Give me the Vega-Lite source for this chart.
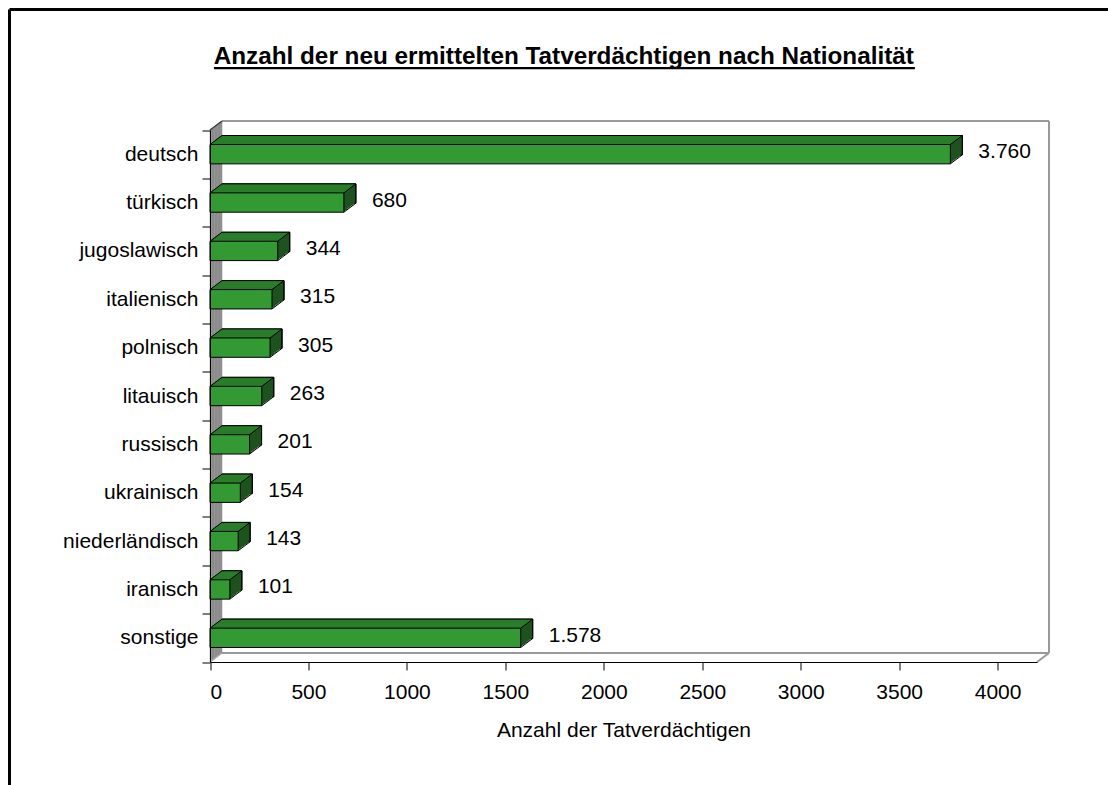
{
  "$schema": "https://vega.github.io/schema/vega-lite/v6.json",
  "width": 1098.5,
  "height": 775.5,
  "autosize": {"type": "none"},
  "padding": {"left": 9.5, "top": 9.5, "right": 0, "bottom": 0},
  "title": {
    "text": "Anzahl der neu ermittelten Tatverdächtigen nach Nationalität",
    "font": "Liberation Sans",
    "fontSize": 24.3,
    "fontWeight": "bold",
    "color": "black",
    "anchor": "middle",
    "frame": "group",
    "dx": 5,
    "offset": -71
  },
  "config": {
    "font": "Liberation Sans",
    "view": {"stroke": "black", "strokeWidth": 3, "strokeDash": [1098.5, 1874, 775.5, 0]},
    "locale": {"number": {"decimal": ",", "thousands": ".", "grouping": [3], "currency": ["", " €"]}}
  },
  "data": {
    "values": [
      {"nat": "deutsch", "n": 3760},
      {"nat": "türkisch", "n": 680},
      {"nat": "jugoslawisch", "n": 344},
      {"nat": "italienisch", "n": 315},
      {"nat": "polnisch", "n": 305},
      {"nat": "litauisch", "n": 263},
      {"nat": "russisch", "n": 201},
      {"nat": "ukrainisch", "n": 154},
      {"nat": "niederländisch", "n": 143},
      {"nat": "iranisch", "n": 101},
      {"nat": "sonstige", "n": 1578}
    ]
  },
  "layer": [
    {"mark": {"type": "bar", "fill": "#339933", "stroke": "black", "strokeWidth": 1, "height": {"band": 0.4}, "opacity": 0},
     "encoding": {
       "x": {"field": "n", "type": "quantitative",
             "scale": {"domain": [0, 4200], "range": [200.5, 1027.5], "nice": false, "zero": true},
             "axis": {"title": "Anzahl der Tatverdächtigen", "values": [0, 500, 1000, 1500, 2000, 2500, 3000, 3500, 4000], "format": "d",
                      "grid": false, "offset": -123, "zindex": 1, "domainColor": "black", "domainWidth": 1, "tickColor": "black", "tickSize": 8,
                      "labelFontSize": 21, "labelColor": "black", "labelPadding": 11, "labelFont": "Liberation Sans",
                      "titleFontSize": 21, "titleFontWeight": "normal", "titleColor": "black", "titlePadding": 17, "titleFont": "Liberation Sans"}},
       "y": {"field": "nat", "type": "nominal",
             "scale": {"type": "band", "domain": ["deutsch", "türkisch", "jugoslawisch", "italienisch", "polnisch", "litauisch", "russisch", "ukrainisch", "niederländisch", "iranisch", "sonstige"],
                       "range": [120.5, 652.5], "paddingInner": 0, "paddingOuter": 0},
             "axis": {"title": null, "offset": -200.5, "zindex": 1, "tickBand": "extent", "domainColor": "black", "domainWidth": 1, "tickColor": "black", "tickSize": 8,
                      "labelFontSize": 21, "labelColor": "black", "labelPadding": 4, "labelFont": "Liberation Sans", "grid": false}}
     }},

    {"data": {"values": [{}]}, "mark": {"type": "rule", "color": "black", "strokeWidth": 2.2, "yOffset": -86},
     "encoding": {"x": {"datum": 20, "type": "quantitative"}, "x2": {"datum": 3580}, "y": {"datum": "deutsch", "type": "nominal"}}},

    {"data": {"values": [{}]}, "mark": {"type": "rule", "color": "#999999", "strokeWidth": 2, "xOffset": 12, "x2Offset": 12, "yOffset": -33.18},
     "encoding": {"x": {"datum": 0, "type": "quantitative"}, "x2": {"datum": 4200}, "y": {"datum": "deutsch", "type": "nominal"}}},
    {"data": {"values": [{}]}, "mark": {"type": "rule", "color": "#999999", "strokeWidth": 2, "xOffset": 12, "yOffset": -33.18, "y2Offset": 15.18},
     "encoding": {"x": {"datum": 4200, "type": "quantitative"}, "y": {"datum": "deutsch", "type": "nominal"}, "y2": {"datum": "sonstige"}}},
    {"data": {"values": [{}]}, "mark": {"type": "rule", "color": "#999999", "strokeWidth": 2, "xOffset": 12, "x2Offset": 12, "yOffset": 15.18},
     "encoding": {"x": {"datum": 0, "type": "quantitative"}, "x2": {"datum": 4200}, "y": {"datum": "sonstige", "type": "nominal"}}},
    {"data": {"values": [{}]}, "mark": {"type": "rule", "color": "#999999", "strokeWidth": 2, "x2Offset": 12, "yOffset": 24.18, "y2Offset": 15.18},
     "encoding": {"x": {"datum": 4200, "type": "quantitative"}, "x2": {"datum": 4200}, "y": {"datum": "sonstige", "type": "nominal"}, "y2": {"datum": "sonstige"}}},

    {"data": {"values": [{}]}, "mark": {"type": "rule", "color": "#8c8c8c", "strokeWidth": 2, "xOffset": 0.75, "yOffset": -24.74, "y2Offset": 23.62},
     "encoding": {"x": {"datum": 0, "type": "quantitative"}, "y": {"datum": "deutsch", "type": "nominal"}, "y2": {"datum": "sonstige"}}},
    {"data": {"values": [{}]}, "mark": {"type": "rule", "color": "#8c8c8c", "strokeWidth": 2, "xOffset": 2.25, "yOffset": -25.87, "y2Offset": 22.49},
     "encoding": {"x": {"datum": 0, "type": "quantitative"}, "y": {"datum": "deutsch", "type": "nominal"}, "y2": {"datum": "sonstige"}}},
    {"data": {"values": [{}]}, "mark": {"type": "rule", "color": "#8c8c8c", "strokeWidth": 2, "xOffset": 3.75, "yOffset": -26.99, "y2Offset": 21.37},
     "encoding": {"x": {"datum": 0, "type": "quantitative"}, "y": {"datum": "deutsch", "type": "nominal"}, "y2": {"datum": "sonstige"}}},
    {"data": {"values": [{}]}, "mark": {"type": "rule", "color": "#8c8c8c", "strokeWidth": 2, "xOffset": 5.25, "yOffset": -28.12, "y2Offset": 20.24},
     "encoding": {"x": {"datum": 0, "type": "quantitative"}, "y": {"datum": "deutsch", "type": "nominal"}, "y2": {"datum": "sonstige"}}},
    {"data": {"values": [{}]}, "mark": {"type": "rule", "color": "#8c8c8c", "strokeWidth": 2, "xOffset": 6.75, "yOffset": -29.24, "y2Offset": 19.12},
     "encoding": {"x": {"datum": 0, "type": "quantitative"}, "y": {"datum": "deutsch", "type": "nominal"}, "y2": {"datum": "sonstige"}}},
    {"data": {"values": [{}]}, "mark": {"type": "rule", "color": "#8c8c8c", "strokeWidth": 2, "xOffset": 8.25, "yOffset": -30.37, "y2Offset": 17.99},
     "encoding": {"x": {"datum": 0, "type": "quantitative"}, "y": {"datum": "deutsch", "type": "nominal"}, "y2": {"datum": "sonstige"}}},
    {"data": {"values": [{}]}, "mark": {"type": "rule", "color": "#8c8c8c", "strokeWidth": 2, "xOffset": 9.75, "yOffset": -31.49, "y2Offset": 16.87},
     "encoding": {"x": {"datum": 0, "type": "quantitative"}, "y": {"datum": "deutsch", "type": "nominal"}, "y2": {"datum": "sonstige"}}},
    {"data": {"values": [{}]}, "mark": {"type": "rule", "color": "#8c8c8c", "strokeWidth": 2, "xOffset": 11.25, "yOffset": -32.62, "y2Offset": 15.74},
     "encoding": {"x": {"datum": 0, "type": "quantitative"}, "y": {"datum": "deutsch", "type": "nominal"}, "y2": {"datum": "sonstige"}}},
    {"data": {"values": [{}]}, "mark": {"type": "rule", "color": "#333333", "strokeWidth": 1.2, "x2Offset": 12, "yOffset": -24.18, "y2Offset": -33.18},
     "encoding": {"x": {"datum": 0, "type": "quantitative"}, "x2": {"datum": 0}, "y": {"datum": "deutsch", "type": "nominal"}, "y2": {"datum": "deutsch"}}},
    {"data": {"values": [{}]}, "mark": {"type": "rule", "color": "#aaaaaa", "strokeWidth": 1.5, "x2Offset": 12, "yOffset": 24.18, "y2Offset": 15.18},
     "encoding": {"x": {"datum": 0, "type": "quantitative"}, "x2": {"datum": 0}, "y": {"datum": "sonstige", "type": "nominal"}, "y2": {"datum": "sonstige"}}},

    {"mark": {"type": "bar", "fill": "#1e521e", "stroke": "black", "strokeWidth": 1, "height": {"band": 0.4}, "xOffset": 12, "x2Offset": 12, "yOffset": -9},
     "encoding": {"x": {"field": "n", "type": "quantitative"}, "y": {"field": "nat", "type": "nominal"}}},
    {"mark": {"type": "bar", "fill": "#1e521e", "height": {"band": 0.4}, "xOffset": 10.5, "x2Offset": 10.5, "yOffset": -7.875},
     "encoding": {"x": {"field": "n", "type": "quantitative"}, "y": {"field": "nat", "type": "nominal"}}},
    {"mark": {"type": "bar", "fill": "#1e521e", "height": {"band": 0.4}, "xOffset": 9, "x2Offset": 9, "yOffset": -6.75},
     "encoding": {"x": {"field": "n", "type": "quantitative"}, "y": {"field": "nat", "type": "nominal"}}},
    {"mark": {"type": "bar", "fill": "#1e521e", "height": {"band": 0.4}, "xOffset": 7.5, "x2Offset": 7.5, "yOffset": -5.625},
     "encoding": {"x": {"field": "n", "type": "quantitative"}, "y": {"field": "nat", "type": "nominal"}}},
    {"mark": {"type": "bar", "fill": "#1e521e", "height": {"band": 0.4}, "xOffset": 6, "x2Offset": 6, "yOffset": -4.5},
     "encoding": {"x": {"field": "n", "type": "quantitative"}, "y": {"field": "nat", "type": "nominal"}}},
    {"mark": {"type": "bar", "fill": "#1e521e", "height": {"band": 0.4}, "xOffset": 4.5, "x2Offset": 4.5, "yOffset": -3.375},
     "encoding": {"x": {"field": "n", "type": "quantitative"}, "y": {"field": "nat", "type": "nominal"}}},
    {"mark": {"type": "bar", "fill": "#1e521e", "height": {"band": 0.4}, "xOffset": 3, "x2Offset": 3, "yOffset": -2.25},
     "encoding": {"x": {"field": "n", "type": "quantitative"}, "y": {"field": "nat", "type": "nominal"}}},
    {"mark": {"type": "bar", "fill": "#1e521e", "height": {"band": 0.4}, "xOffset": 1.5, "x2Offset": 1.5, "yOffset": -1.125},
     "encoding": {"x": {"field": "n", "type": "quantitative"}, "y": {"field": "nat", "type": "nominal"}}},

    {"mark": {"type": "rule", "color": "#2a7d2a", "strokeWidth": 1.7, "xOffset": 0.75, "x2Offset": 0.75, "yOffset": -10.23},
     "encoding": {"x": {"field": "n", "type": "quantitative"}, "x2": {"datum": 0}, "y": {"field": "nat", "type": "nominal"}}},
    {"mark": {"type": "rule", "color": "#2a7d2a", "strokeWidth": 1.7, "xOffset": 2.25, "x2Offset": 2.25, "yOffset": -11.36},
     "encoding": {"x": {"field": "n", "type": "quantitative"}, "x2": {"datum": 0}, "y": {"field": "nat", "type": "nominal"}}},
    {"mark": {"type": "rule", "color": "#2a7d2a", "strokeWidth": 1.7, "xOffset": 3.75, "x2Offset": 3.75, "yOffset": -12.48},
     "encoding": {"x": {"field": "n", "type": "quantitative"}, "x2": {"datum": 0}, "y": {"field": "nat", "type": "nominal"}}},
    {"mark": {"type": "rule", "color": "#2a7d2a", "strokeWidth": 1.7, "xOffset": 5.25, "x2Offset": 5.25, "yOffset": -13.61},
     "encoding": {"x": {"field": "n", "type": "quantitative"}, "x2": {"datum": 0}, "y": {"field": "nat", "type": "nominal"}}},
    {"mark": {"type": "rule", "color": "#2a7d2a", "strokeWidth": 1.7, "xOffset": 6.75, "x2Offset": 6.75, "yOffset": -14.73},
     "encoding": {"x": {"field": "n", "type": "quantitative"}, "x2": {"datum": 0}, "y": {"field": "nat", "type": "nominal"}}},
    {"mark": {"type": "rule", "color": "#2a7d2a", "strokeWidth": 1.7, "xOffset": 8.25, "x2Offset": 8.25, "yOffset": -15.86},
     "encoding": {"x": {"field": "n", "type": "quantitative"}, "x2": {"datum": 0}, "y": {"field": "nat", "type": "nominal"}}},
    {"mark": {"type": "rule", "color": "#2a7d2a", "strokeWidth": 1.7, "xOffset": 9.75, "x2Offset": 9.75, "yOffset": -16.98},
     "encoding": {"x": {"field": "n", "type": "quantitative"}, "x2": {"datum": 0}, "y": {"field": "nat", "type": "nominal"}}},
    {"mark": {"type": "rule", "color": "#2a7d2a", "strokeWidth": 1.7, "xOffset": 11.25, "x2Offset": 11.25, "yOffset": -18.11},
     "encoding": {"x": {"field": "n", "type": "quantitative"}, "x2": {"datum": 0}, "y": {"field": "nat", "type": "nominal"}}},

    {"mark": {"type": "bar", "fill": "#339933", "stroke": "black", "strokeWidth": 1, "height": {"band": 0.4}},
     "encoding": {"x": {"field": "n", "type": "quantitative"}, "y": {"field": "nat", "type": "nominal"}}},

    {"mark": {"type": "rule", "color": "black", "strokeWidth": 1, "xOffset": 12, "x2Offset": 12, "yOffset": -18.67},
     "encoding": {"x": {"field": "n", "type": "quantitative"}, "x2": {"datum": 0}, "y": {"field": "nat", "type": "nominal"}}},
    {"mark": {"type": "rule", "color": "black", "strokeWidth": 1, "xOffset": 12, "yOffset": -18.67, "y2Offset": 0.67},
     "encoding": {"x": {"field": "n", "type": "quantitative"}, "y": {"field": "nat", "type": "nominal"}, "y2": {"field": "nat"}}},
    {"mark": {"type": "rule", "color": "black", "strokeWidth": 1, "x2Offset": 12, "yOffset": -9.67, "y2Offset": -18.67},
     "encoding": {"x": {"datum": 0, "type": "quantitative"}, "x2": {"datum": 0}, "y": {"field": "nat", "type": "nominal"}, "y2": {"field": "nat"}}},
    {"mark": {"type": "rule", "color": "black", "strokeWidth": 1, "x2Offset": 12, "yOffset": -9.67, "y2Offset": -18.67},
     "encoding": {"x": {"field": "n", "type": "quantitative"}, "x2": {"field": "n"}, "y": {"field": "nat", "type": "nominal"}, "y2": {"field": "nat"}}},
    {"mark": {"type": "rule", "color": "black", "strokeWidth": 1, "x2Offset": 12, "yOffset": 9.67, "y2Offset": 0.67},
     "encoding": {"x": {"field": "n", "type": "quantitative"}, "x2": {"field": "n"}, "y": {"field": "nat", "type": "nominal"}, "y2": {"field": "nat"}}},

    {"mark": {"type": "text", "align": "left", "baseline": "middle", "dx": 28, "dy": -2, "fontSize": 21, "color": "black", "font": "Liberation Sans"},
     "encoding": {"x": {"field": "n", "type": "quantitative"}, "y": {"field": "nat", "type": "nominal"},
                  "text": {"field": "n", "type": "quantitative", "format": ",d"}}}
  ]
}
